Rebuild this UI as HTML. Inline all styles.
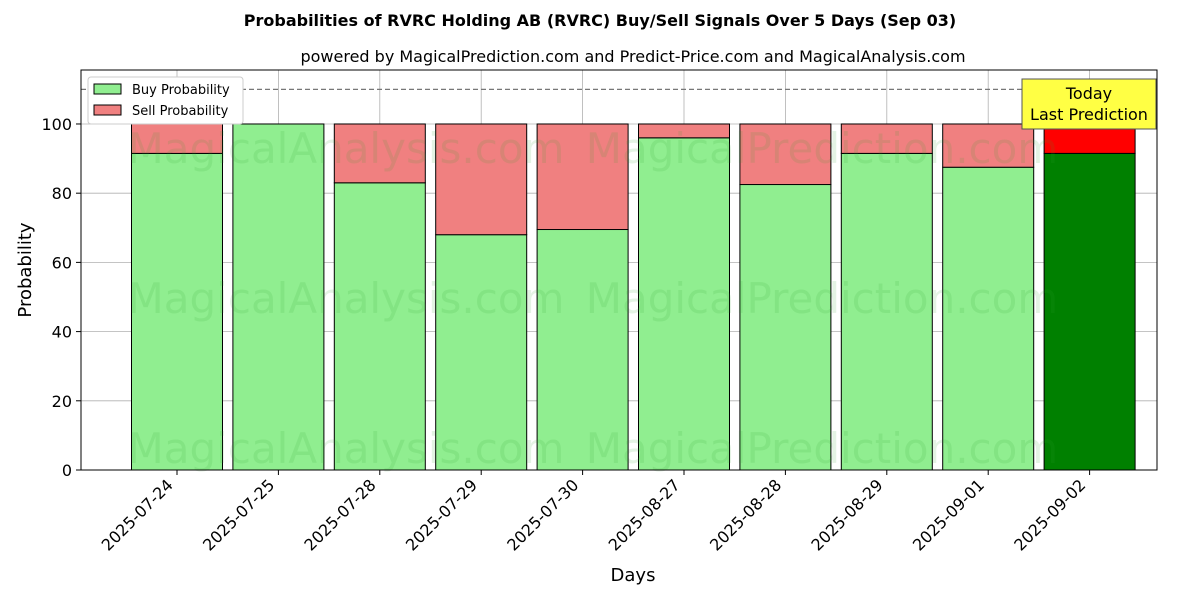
<!DOCTYPE html>
<html><head><meta charset="utf-8"><style>
body{margin:0;background:#fff;font-family:"Liberation Sans","DejaVu Sans",sans-serif}
</style></head><body>
<svg id="c" width="1200" height="600" xmlns="http://www.w3.org/2000/svg">
<rect width="1200" height="600" fill="#fff"/>
<text x="600" y="26" text-anchor="middle" font-size="16" font-weight="bold" font-family="DejaVu Sans, sans-serif">Probabilities of RVRC Holding AB (RVRC) Buy/Sell Signals Over 5 Days (Sep 03)</text>
<text x="633" y="62" text-anchor="middle" font-size="16" font-family="DejaVu Sans, sans-serif">powered by MagicalPrediction.com and Predict-Price.com and MagicalAnalysis.com</text>
<g id="grid"></g>
<g id="bars"></g>
<g font-size="42" fill="#2ca02c" fill-opacity="0.13" font-family="DejaVu Sans, sans-serif">
<text x="346" y="163" text-anchor="middle">MagicalAnalysis.com</text>
<text x="822" y="163" text-anchor="middle">MagicalPrediction.com</text>
<text x="346" y="313" text-anchor="middle">MagicalAnalysis.com</text>
<text x="822" y="313" text-anchor="middle">MagicalPrediction.com</text>
<text x="346" y="463" text-anchor="middle">MagicalAnalysis.com</text>
<text x="822" y="463" text-anchor="middle">MagicalPrediction.com</text>
</g>
<g id="axes"></g>
<text x="633" y="581" text-anchor="middle" font-size="18" font-family="DejaVu Sans, sans-serif">Days</text>
<text transform="translate(31,270) rotate(-90)" text-anchor="middle" font-size="18" font-family="DejaVu Sans, sans-serif">Probability</text>
<g>
<rect x="88" y="77" width="155" height="47" fill="#fff" stroke="#ccc" rx="3"/>
<rect x="94" y="84" width="27" height="10" fill="#90ee90" stroke="#000"/>
<text x="132" y="94" font-size="13" font-family="DejaVu Sans, sans-serif">Buy Probability</text>
<rect x="94" y="105" width="27" height="10" fill="#f08080" stroke="#000"/>
<text x="132" y="115" font-size="13" font-family="DejaVu Sans, sans-serif">Sell Probability</text>
</g>
<g>
<rect x="1022" y="79" width="134" height="50" fill="#ffff44" stroke="#555"/>
<text x="1089" y="99" text-anchor="middle" font-size="16" font-family="DejaVu Sans, sans-serif">Today</text>
<text x="1089" y="120" text-anchor="middle" font-size="16" font-family="DejaVu Sans, sans-serif">Last Prediction</text>
</g>
</svg>
<script>
const categories=["2025-07-24","2025-07-25","2025-07-28","2025-07-29","2025-07-30","2025-08-27","2025-08-28","2025-08-29","2025-09-01","2025-09-02"];
const buyValues=[91.5,100,83,68,69.5,96,82.5,91.5,87.5,91.5];
const sellValues=[8.5,0,17,32,30.5,4,17.5,8.5,12.5,8.5];
const yTicks=[0,20,40,60,80,100];
const NS="http://www.w3.org/2000/svg";
const L=81,R=1157,T=70,B=470,yMax=115.6;
const y=v=>B-v*(B-T)/yMax;
const x=i=>177+i*101.4;
const bw=91;
function mk(p,tag,a){const e=document.createElementNS(NS,tag);for(const k in a)e.setAttribute(k,a[k]);p.appendChild(e);return e;}
const grid=document.getElementById('grid'),bars=document.getElementById('bars'),axes=document.getElementById('axes');
yTicks.forEach(t=>{
 const g=mk(grid,'line',{x1:L,x2:R,y1:y(t),y2:y(t),stroke:'#b0b0b0','stroke-width':0.8});
 
 
 mk(axes,'line',{x1:L-5,x2:L,y1:y(t),y2:y(t),stroke:'#000'});
 const tx=mk(axes,'text',{x:L-9,y:y(t)+6,'text-anchor':'end','font-size':16,'font-family':'DejaVu Sans, sans-serif'});
 tx.textContent=t;
 
 
});
categories.forEach((c,i)=>{
 const g=mk(grid,'line',{x1:x(i),x2:x(i),y1:T,y2:B,stroke:'#b0b0b0','stroke-width':0.8});
 
 
 const last=i===categories.length-1;
 const b=mk(bars,'rect',{x:x(i)-bw/2,y:y(buyValues[i]),width:bw,height:y(0)-y(buyValues[i]),fill:last?'#008000':'#90ee90',stroke:'#000','stroke-width':1});
 
 
 const s=mk(bars,'rect',{x:x(i)-bw/2,y:y(buyValues[i]+sellValues[i]),width:bw,height:y(buyValues[i])-y(buyValues[i]+sellValues[i]),fill:last?'#ff0000':'#f08080',stroke:'#000','stroke-width':1});
 
 
 mk(axes,'line',{x1:x(i),x2:x(i),y1:B,y2:B+5,stroke:'#000'});
 const tx=mk(axes,'text',{transform:`translate(${x(i)-3},${B+16}) rotate(-45)`,'text-anchor':'end','font-size':16,'font-family':'DejaVu Sans, sans-serif'});
 tx.textContent=c;
 
 
});
const d=mk(axes,'line',{x1:L,x2:R,y1:y(110),y2:y(110),stroke:'#777','stroke-dasharray':'5,3','stroke-width':1.2});


const fr=mk(axes,'rect',{x:L,y:T,width:R-L,height:B-T,fill:'none',stroke:'#000','stroke-width':1});


</script>
</body></html>
